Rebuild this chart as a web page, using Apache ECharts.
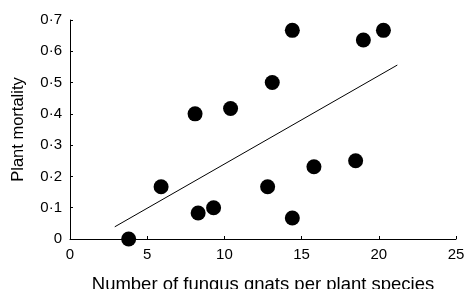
<!DOCTYPE html>
<html>
<head>
<meta charset="utf-8">
<script src="https://cdn.jsdelivr.net/npm/echarts@6/dist/echarts.min.js"></script>
<style>
  html, body { margin: 0; padding: 0; background: #fff; }
  #chart { width: 468px; height: 289px; }
</style>
</head>
<body>
<div id="chart"></div>
<script>
// gnats per plant species vs plant mortality
const gnats = [3.8, 5.9, 8.1, 8.3, 9.3, 10.4, 12.8, 13.1, 14.4, 14.4, 15.8, 18.5, 19.0, 20.3];
const mortality = [0, 0.167, 0.4, 0.083, 0.1, 0.417, 0.167, 0.5, 0.667, 0.067, 0.231, 0.25, 0.636, 0.667];
// fitted regression line end points
const fitX = [2.9, 21.2];
const fitY = [0.039, 0.556];

const chart = echarts.init(document.getElementById("chart"));

const axisFont = { fontFamily: "Liberation Sans", fontSize: 15, color: "#000" };

chart.setOption({
  animation: false,
  grid: { left: 70, right: 12, top: 20, bottom: 50, outerBoundsMode: "none" },
  xAxis: {
    type: "value",
    min: 0,
    max: 25,
    interval: 5,
    name: "Number of fungus gnats per plant species",
    nameLocation: "middle",
    nameGap: 36,
    nameTextStyle: { fontFamily: "Liberation Sans", fontSize: 18.5, color: "#000" },
    axisLine: { lineStyle: { color: "#000", width: 1 } },
    axisTick: { inside: true, length: 3, lineStyle: { color: "#000" } },
    axisLabel: Object.assign({ margin: 8 }, axisFont),
    splitLine: { show: false },
  },
  yAxis: {
    type: "value",
    min: 0,
    max: 0.7,
    interval: 0.1,
    name: "Plant mortality",
    nameLocation: "middle",
    nameGap: 43,
    nameTextStyle: { fontFamily: "Liberation Sans", fontSize: 16.5, color: "#000" },
    axisLine: { show: true, lineStyle: { color: "#000", width: 1 } },
    axisTick: { show: true, inside: true, length: 3, lineStyle: { color: "#000" } },
    axisLabel: Object.assign({
      margin: 8,
      formatter: (v) => (v === 0 ? "0" : v.toFixed(1).replace(".", "·")),
    }, axisFont),
    splitLine: { show: false },
  },
  series: [
    {
      type: "line",
      data: fitX.map((x, i) => [x, fitY[i]]),
      showSymbol: false,
      lineStyle: { color: "#000", width: 1 },
      z: 1,
    },
    {
      type: "scatter",
      data: gnats.map((x, i) => [x, mortality[i]]),
      symbolSize: 15,
      itemStyle: { color: "#000", opacity: 1 },
      clip: false,
      z: 2,
    },
  ],
});
</script>
</body>
</html>
